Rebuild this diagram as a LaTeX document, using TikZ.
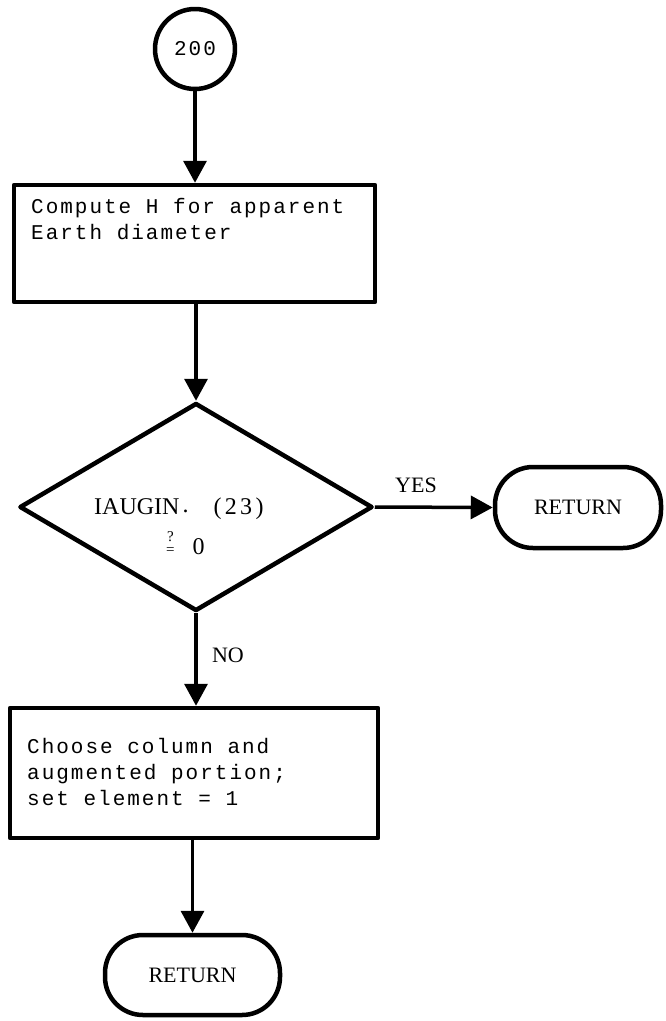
\documentclass[tikz,border=0pt]{standalone}
\usepackage{fontspec}
\setmainfont{Liberation Serif}
\newfontfamily\tw[LetterSpace=9.5]{Liberation Mono}
\usetikzlibrary{shapes.geometric,arrows.meta}
\begin{document}
\begin{tikzpicture}[x=1pt,y=-1pt,
  shapeb/.style={draw, line width=4.5pt, inner sep=0pt, line join=round},
  conn/.style={line width=3.5pt, -{Triangle[width=23pt,length=22pt]}},
  lbl/.style={font=\fontsize{22}{22}\selectfont, inner sep=0pt},
  twtext/.style={font=\tw\fontsize{21}{26}\selectfont, inner sep=0pt, align=left}]
\useasboundingbox[fill=white] (0,0) rectangle (665,1021);
% nodes
\node[shapeb, circle, minimum size=80pt, font=\tw\fontsize{21}{21}\selectfont] (c200) at (195,49) {200};
\node[shapeb, rectangle, minimum width=361pt, minimum height=117pt] (box1) at (194.5,243.5) {};
\node[twtext, anchor=north west] (t1) at (31,198) {Compute H for apparent\\Earth diameter};
\node[shapeb, diamond, aspect=1.7, minimum width=353pt, minimum height=208pt] (dec) at (196,507) {};
\node[lbl, font=\fontsize{24}{24}\selectfont, anchor=base west] (q1) at (94,514) {IAUGIN\hspace{3pt}\raisebox{2pt}{.}\hspace{25pt}{\addfontfeature{LetterSpace=14}(23)}};
\node[lbl, anchor=base west] (q2) at (166,554) {{\fontsize{15}{15}\selectfont\shortstack{?\\[2pt]=}}\hspace{18pt}{\fontsize{24}{24}\selectfont 0}};
\node[shapeb, lbl, rounded corners=38pt, minimum width=166pt, minimum height=81pt] (ret1) at (578,507.5) {RETURN};
\node[shapeb, rectangle, minimum width=368pt, minimum height=130pt] (box2) at (194,773) {};
\node[twtext, anchor=north west] (t2) at (27,738) {Choose column and\\augmented portion;\\set element = 1};
\node[shapeb, lbl, rounded corners=38pt, minimum width=175pt, minimum height=80pt] (ret2) at (192.5,975) {RETURN};
% labels
\node[lbl] (yes) at (416,485) {YES};
\node[lbl] (no) at (228,655) {NO};
% connectors
\draw[conn] (c200.south) -- (c200.south |- box1.north);
\draw[conn] (dec.north |- box1.south) -- (dec.north);
\draw[conn] (dec.south) -- (dec.south |- box2.north);
\draw[conn] (dec.east) -- (ret1.west);
\draw[conn] (ret2.north |- box2.south) -- (ret2.north);
\end{tikzpicture}
\end{document}
